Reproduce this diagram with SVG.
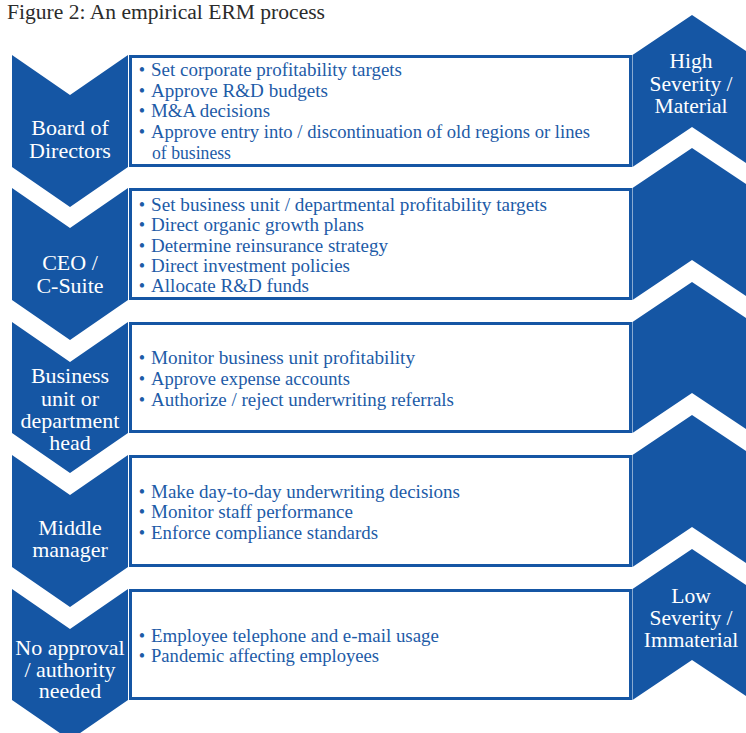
<svg xmlns="http://www.w3.org/2000/svg" width="746" height="733" viewBox="0 0 746 733">
  <style>
    .chev { fill: #1556a4; }
    .box { fill: #ffffff; stroke: #1556a4; stroke-width: 3; }
    .title { font-family: "Liberation Serif", "DejaVu Serif", serif; font-size: 20px; fill: #2b2b2b; }
    .lab { font-family: "Liberation Serif", "DejaVu Serif", serif; font-size: 22px; fill: #ffffff; text-anchor: middle; }
    .sev { font-family: "Liberation Serif", "DejaVu Serif", serif; font-size: 21.5px; fill: #ffffff; text-anchor: middle; }
    .item { font-family: "Liberation Serif", "DejaVu Serif", serif; font-size: 18px; fill: #1d5ba7; }
    .dot { font-family: "Liberation Serif", "DejaVu Serif", serif; font-size: 18px; fill: #1d5ba7; text-anchor: middle; }
  </style>

  <text class="title" x="7" y="19" textLength="318" lengthAdjust="spacingAndGlyphs">Figure 2: An empirical ERM process</text>

  <!-- severity scale on the right -->
  <g id="severity-scale">
    <polygon class="chev" points="632.5,55 692,15 752,55 752,167 692,127 632.5,167"/>
    <polygon class="chev" points="632.5,188 692,148 752,188 752,300 692,260 632.5,300"/>
    <polygon class="chev" points="632.5,322 692,282 752,322 752,433 692,393 632.5,433"/>
    <polygon class="chev" points="632.5,455 692,415 752,455 752,567 692,527 632.5,567"/>
    <polygon class="chev" points="632.5,589 692,549 752,589 752,700 692,660 632.5,700"/>
    <text class="sev" x="691" y="68">High</text>
    <text class="sev" x="691" y="91">Severity /</text>
    <text class="sev" x="691" y="113">Material</text>
    <text class="sev" x="691" y="603">Low</text>
    <text class="sev" x="691" y="625">Severity /</text>
    <text class="sev" x="691" y="647">Immaterial</text>
  </g>

  <!-- level 1 -->
  <g id="board">
    <polygon class="chev" points="12,55 70,95 128,55 128,167 70,207 12,167"/>
    <text class="lab" x="70" y="135">Board of</text>
    <text class="lab" x="70" y="158">Directors</text>
    <rect class="box" x="130.5" y="56.5" width="500" height="109"/>
    <text class="dot" x="142" y="76">•</text>
    <text class="item" x="151" y="76" textLength="251" lengthAdjust="spacingAndGlyphs">Set corporate profitability targets</text>
    <text class="dot" x="142" y="97">•</text>
    <text class="item" x="151" y="97" textLength="177" lengthAdjust="spacingAndGlyphs">Approve R&amp;D budgets</text>
    <text class="dot" x="142" y="117">•</text>
    <text class="item" x="151" y="117" textLength="119" lengthAdjust="spacingAndGlyphs">M&amp;A decisions</text>
    <text class="dot" x="142" y="138">•</text>
    <text class="item" x="151" y="138" textLength="439" lengthAdjust="spacingAndGlyphs">Approve entry into / discontinuation of old regions or lines</text>
    <text class="item" x="152" y="159" textLength="79" lengthAdjust="spacingAndGlyphs">of business</text>
  </g>

  <!-- level 2 -->
  <g id="ceo">
    <polygon class="chev" points="12,188 70,228 128,188 128,300 70,340 12,300"/>
    <text class="lab" x="70" y="270">CEO /</text>
    <text class="lab" x="70" y="293">C-Suite</text>
    <rect class="box" x="130.5" y="189.5" width="500" height="109"/>
    <text class="dot" x="142" y="211">•</text>
    <text class="item" x="151" y="211" textLength="396" lengthAdjust="spacingAndGlyphs">Set business unit / departmental profitability targets</text>
    <text class="dot" x="142" y="231">•</text>
    <text class="item" x="151" y="231" textLength="213" lengthAdjust="spacingAndGlyphs">Direct organic growth plans</text>
    <text class="dot" x="142" y="252">•</text>
    <text class="item" x="151" y="252" textLength="237" lengthAdjust="spacingAndGlyphs">Determine reinsurance strategy</text>
    <text class="dot" x="142" y="272">•</text>
    <text class="item" x="151" y="272" textLength="199" lengthAdjust="spacingAndGlyphs">Direct investment policies</text>
    <text class="dot" x="142" y="292">•</text>
    <text class="item" x="151" y="292" textLength="158" lengthAdjust="spacingAndGlyphs">Allocate R&amp;D funds</text>
  </g>

  <!-- level 3 -->
  <g id="business-unit">
    <polygon class="chev" points="12,322 70,362 128,322 128,433 70,473 12,433"/>
    <text class="lab" x="70" y="383">Business</text>
    <text class="lab" x="70" y="406">unit or</text>
    <text class="lab" x="70" y="428">department</text>
    <text class="lab" x="70" y="450">head</text>
    <rect class="box" x="130.5" y="323.5" width="500" height="108"/>
    <text class="dot" x="142" y="364">•</text>
    <text class="item" x="151" y="364" textLength="264" lengthAdjust="spacingAndGlyphs">Monitor business unit profitability</text>
    <text class="dot" x="142" y="385">•</text>
    <text class="item" x="151" y="385" textLength="199" lengthAdjust="spacingAndGlyphs">Approve expense accounts</text>
    <text class="dot" x="142" y="406">•</text>
    <text class="item" x="151" y="406" textLength="303" lengthAdjust="spacingAndGlyphs">Authorize / reject underwriting referrals</text>
  </g>

  <!-- level 4 -->
  <g id="middle-manager">
    <polygon class="chev" points="12,455 70,495 128,455 128,567 70,607 12,567"/>
    <text class="lab" x="70" y="535">Middle</text>
    <text class="lab" x="70" y="557">manager</text>
    <rect class="box" x="130.5" y="456.5" width="500" height="109"/>
    <text class="dot" x="142" y="498">•</text>
    <text class="item" x="151" y="498" textLength="309" lengthAdjust="spacingAndGlyphs">Make day-to-day underwriting decisions</text>
    <text class="dot" x="142" y="518">•</text>
    <text class="item" x="151" y="518" textLength="202" lengthAdjust="spacingAndGlyphs">Monitor staff performance</text>
    <text class="dot" x="142" y="539">•</text>
    <text class="item" x="151" y="539" textLength="227" lengthAdjust="spacingAndGlyphs">Enforce compliance standards</text>
  </g>

  <!-- level 5 -->
  <g id="no-approval">
    <polygon class="chev" points="12,589 70,629 128,589 128,700 70,740 12,700"/>
    <text class="lab" x="70" y="655">No approval</text>
    <text class="lab" x="70" y="677">/ authority</text>
    <text class="lab" x="70" y="698">needed</text>
    <rect class="box" x="130.5" y="590.5" width="500" height="108"/>
    <text class="dot" x="142" y="642">•</text>
    <text class="item" x="151" y="642" textLength="288" lengthAdjust="spacingAndGlyphs">Employee telephone and e-mail usage</text>
    <text class="dot" x="142" y="662">•</text>
    <text class="item" x="151" y="662" textLength="228" lengthAdjust="spacingAndGlyphs">Pandemic affecting employees</text>
  </g>

  <!-- no connectors in this figure -->
  <g id="connectors"/>
</svg>
